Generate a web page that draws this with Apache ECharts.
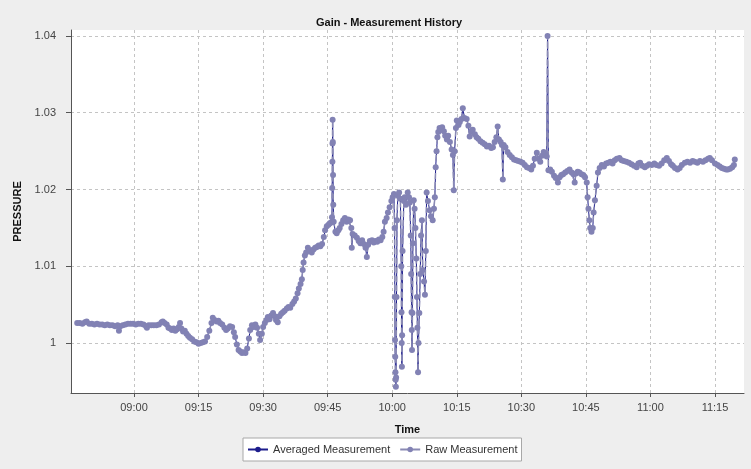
<!DOCTYPE html>
<html>
<head>
<meta charset="utf-8">
<script src="https://cdn.jsdelivr.net/npm/echarts@6/dist/echarts.min.js"></script>
<style>
  html, body { margin: 0; padding: 0; background: #eeeeee; }
  #chart { width: 751px; height: 469px; }
</style>
</head>
<body>
<div id="chart"></div>
<script>
// x = minutes after 09:00, y = pressure
var raw = [
  [-13.2, 1.0026], [-12.6, 1.0026], [-12.0, 1.0025], [-11.4, 1.0027], [-11.0, 1.0028],
  [-10.4, 1.0025], [-9.8, 1.0025], [-9.2, 1.0024], [-8.6, 1.0025], [-8.0, 1.0024],
  [-7.4, 1.0024], [-6.8, 1.0023], [-6.2, 1.0024], [-5.6, 1.0023], [-5.0, 1.0023],
  [-4.4, 1.0022], [-3.8, 1.0023], [-3.5, 1.0016], [-3.2, 1.0022], [-2.6, 1.0023],
  [-2.0, 1.0024], [-1.4, 1.0025], [-0.8, 1.0025], [-0.2, 1.0025], [0.4, 1.0024],
  [1.0, 1.0025], [1.6, 1.0025], [2.2, 1.0024], [2.8, 1.0022], [3.0, 1.0020],
  [3.4, 1.0023], [4.0, 1.0023], [4.6, 1.0023], [5.2, 1.0023], [5.8, 1.0024],
  [6.4, 1.0027], [6.7, 1.0028], [7.1, 1.0026], [7.6, 1.0024], [8.0, 1.0020],
  [8.4, 1.0019], [8.8, 1.0017], [9.2, 1.0019], [9.6, 1.0016], [10.0, 1.0018],
  [10.4, 1.0021], [10.7, 1.0026], [11.0, 1.0019], [11.4, 1.0015], [11.8, 1.0016],
  [12.2, 1.0012], [12.6, 1.0009], [13.0, 1.0007], [13.5, 1.0005], [14.0, 1.0002],
  [14.5, 1.0001], [15.0, 0.9999], [15.5, 1.0000], [16.0, 1.0001], [16.5, 1.0002],
  [17.0, 1.0008], [17.5, 1.0016], [18.0, 1.0026], [18.3, 1.0033], [18.7, 1.0030],
  [19.2, 1.0028], [19.6, 1.0029], [20.0, 1.0026], [20.5, 1.0024], [21.0, 1.0020],
  [21.4, 1.0017], [21.8, 1.0019], [22.3, 1.0022], [22.8, 1.0021], [23.2, 1.0014],
  [23.5, 1.0008], [23.9, 0.9998], [24.3, 0.9991], [24.7, 0.9989], [25.1, 0.9987],
  [25.5, 0.9988], [25.9, 0.9987], [26.3, 0.9993], [26.7, 1.0006], [27.0, 1.0017],
  [27.4, 1.0023], [27.8, 1.0021], [28.2, 1.0024], [28.6, 1.0020], [29.0, 1.0012],
  [29.3, 1.0004], [29.7, 1.0012], [30.0, 1.0021], [30.4, 1.0026], [30.8, 1.0030],
  [31.1, 1.0034], [31.5, 1.0031], [31.9, 1.0036], [32.3, 1.0039], [32.7, 1.0035],
  [33.0, 1.0030], [33.4, 1.0027], [33.8, 1.0035], [34.2, 1.0038], [34.6, 1.0040],
  [35.0, 1.0042], [35.5, 1.0045], [35.9, 1.0047], [36.3, 1.0046], [36.8, 1.0051],
  [37.2, 1.0054], [37.6, 1.0058], [38.0, 1.0065], [38.3, 1.0071], [38.7, 1.0077],
  [39.0, 1.0083], [39.2, 1.0095], [39.4, 1.0105], [39.7, 1.0114], [40.0, 1.0118],
  [40.4, 1.0124], [40.8, 1.0121], [41.3, 1.0118], [41.7, 1.0122], [42.1, 1.0124],
  [42.5, 1.0125], [42.9, 1.0127], [43.3, 1.0126], [43.7, 1.0129], [44.1, 1.0138],
  [44.4, 1.0147], [44.8, 1.0152], [45.2, 1.0154], [45.5, 1.0156], [45.8, 1.0157],
  [46.0, 1.0164], [46.05, 1.0202], [46.1, 1.0236], [46.12, 1.0260], [46.15, 1.0291],
  [46.2, 1.0262], [46.25, 1.0219], [46.3, 1.0180], [46.4, 1.0158], [46.8, 1.0145],
  [47.1, 1.0143], [47.5, 1.0147], [47.8, 1.0150], [48.2, 1.0155], [48.6, 1.0160],
  [49.0, 1.0163], [49.4, 1.0158], [49.8, 1.0161], [50.2, 1.0160], [50.5, 1.0150],
  [50.6, 1.0124], [50.8, 1.0142], [51.3, 1.0140], [51.8, 1.0137], [52.2, 1.0133],
  [52.6, 1.0130], [53.0, 1.0134], [53.4, 1.0129], [53.8, 1.0124], [54.1, 1.0112],
  [54.4, 1.0128], [54.8, 1.0133], [55.3, 1.0134], [55.7, 1.0131], [56.1, 1.0133],
  [56.5, 1.0132], [56.9, 1.0135], [57.3, 1.0134], [57.7, 1.0138], [58.0, 1.0145],
  [58.3, 1.0158], [58.7, 1.0163], [59.0, 1.0170], [59.4, 1.0177], [59.8, 1.0185],
  [60.1, 1.0190], [60.4, 1.0194], [60.55, 1.0150], [60.6, 1.0060], [60.65, 1.0004],
  [60.7, 0.9982], [60.75, 0.9962], [60.8, 0.9952], [60.85, 0.9943], [60.9, 0.9955],
  [61.0, 1.0060], [61.1, 1.0160], [61.3, 1.0192], [61.6, 1.0196], [61.9, 1.0188],
  [62.1, 1.0100], [62.15, 1.0040], [62.2, 1.0000], [62.25, 0.9969], [62.3, 1.0010],
  [62.4, 1.0120], [62.7, 1.0185], [62.9, 1.0190], [63.2, 1.0180], [63.6, 1.0196],
  [63.9, 1.0190], [64.1, 1.0183], [64.3, 1.0140], [64.4, 1.0090], [64.5, 1.0040],
  [64.55, 1.0017], [64.6, 0.9991], [64.7, 1.0039], [64.8, 1.0130], [65.0, 1.0186],
  [65.2, 1.0175], [65.4, 1.0150], [65.6, 1.0110], [65.75, 1.0060], [65.85, 1.0020],
  [66.0, 0.9962], [66.1, 1.0000], [66.3, 1.0039], [66.5, 1.0090], [66.7, 1.0140],
  [66.9, 1.0160], [67.1, 1.0095], [67.4, 1.0080], [67.6, 1.0063], [67.8, 1.0120],
  [68.0, 1.0196], [68.3, 1.0185], [68.7, 1.0173], [69.0, 1.0165], [69.4, 1.0160],
  [69.7, 1.0175], [69.9, 1.0190], [70.1, 1.0229], [70.3, 1.0250], [70.5, 1.0268],
  [70.7, 1.0275], [71.0, 1.0280], [71.3, 1.0278], [71.6, 1.0281], [72.0, 1.0276],
  [72.3, 1.0270], [72.7, 1.0265], [73.0, 1.0270], [73.4, 1.0262], [73.8, 1.0252],
  [74.1, 1.0245], [74.3, 1.0199], [74.5, 1.0250], [74.8, 1.0280], [75.0, 1.0290],
  [75.4, 1.0284], [75.7, 1.0288], [76.1, 1.0292], [76.4, 1.0306], [76.8, 1.0293],
  [77.3, 1.0292], [77.7, 1.0283], [78.0, 1.0269], [78.4, 1.0276], [78.7, 1.0278],
  [79.2, 1.0272], [79.6, 1.0268], [80.0, 1.0266], [80.5, 1.0263], [81.0, 1.0261],
  [81.5, 1.0259], [82.0, 1.0256], [82.5, 1.0257], [83.0, 1.0254], [83.4, 1.0255],
  [83.8, 1.0262], [84.2, 1.0268], [84.5, 1.0282], [84.8, 1.0265], [85.2, 1.0262],
  [85.5, 1.0258], [85.7, 1.0213], [85.9, 1.0258], [86.3, 1.0255], [86.8, 1.0249],
  [87.3, 1.0245], [87.8, 1.0242], [88.3, 1.0239], [88.8, 1.0238], [89.3, 1.0237],
  [89.8, 1.0236], [90.3, 1.0235], [90.8, 1.0232], [91.3, 1.0229], [91.8, 1.0228],
  [92.3, 1.0226], [92.7, 1.0231], [93.1, 1.0240], [93.6, 1.0248], [94.0, 1.0240],
  [94.4, 1.0236], [94.8, 1.0244], [95.2, 1.0249], [95.6, 1.0246], [95.9, 1.0243],
  [96.1, 1.0400], [96.3, 1.0225], [96.7, 1.0226], [97.1, 1.0223], [97.6, 1.0218],
  [98.0, 1.0215], [98.5, 1.0209], [98.9, 1.0216], [99.3, 1.0219], [99.7, 1.0220],
  [100.2, 1.0222], [100.7, 1.0224], [101.2, 1.0226], [101.7, 1.0222], [102.1, 1.0220],
  [102.4, 1.0209], [102.7, 1.0221], [103.1, 1.0223], [103.5, 1.0222], [104.0, 1.0220],
  [104.4, 1.0219], [104.8, 1.0216], [105.2, 1.0209], [105.4, 1.0190], [105.6, 1.0175],
  [105.8, 1.0160], [106.0, 1.0150], [106.3, 1.0145], [106.6, 1.0150], [106.8, 1.0170],
  [107.1, 1.0186], [107.5, 1.0205], [107.8, 1.0222], [108.2, 1.0228], [108.7, 1.0232],
  [109.2, 1.0230], [109.7, 1.0234], [110.2, 1.0235], [110.7, 1.0236], [111.2, 1.0234],
  [111.7, 1.0238], [112.2, 1.0240], [112.8, 1.0241], [113.3, 1.0238], [113.8, 1.0237],
  [114.4, 1.0236], [115.0, 1.0235], [115.6, 1.0233], [116.2, 1.0231], [116.8, 1.0229],
  [117.2, 1.0234], [117.6, 1.0235], [118.1, 1.0231], [118.7, 1.0229], [119.2, 1.0231],
  [119.7, 1.0233], [120.3, 1.0232], [120.9, 1.0234], [121.4, 1.0232], [122.0, 1.0231],
  [122.6, 1.0234], [123.2, 1.0238], [123.8, 1.0241], [124.3, 1.0237], [124.8, 1.0233],
  [125.2, 1.0231], [125.7, 1.0228], [126.3, 1.0226], [126.8, 1.0228], [127.3, 1.0232],
  [128.0, 1.0235], [128.6, 1.0236], [129.2, 1.0235], [129.8, 1.0237], [130.3, 1.0236],
  [130.9, 1.0235], [131.5, 1.0237], [132.2, 1.0236], [132.8, 1.0238], [133.4, 1.0240],
  [133.8, 1.0241], [134.3, 1.0238], [135.0, 1.0234], [135.6, 1.0232], [136.1, 1.0230],
  [136.6, 1.0228], [137.1, 1.0227], [137.6, 1.0226], [138.0, 1.0226], [138.5, 1.0227],
  [139.0, 1.0229], [139.4, 1.0232], [139.6, 1.0239]
];
// the averaged trace sits right on top of the raw one in the picture
var averaged = raw;

var xTicks = [0, 15, 30, 45, 60, 75, 90, 105, 120, 135];
var yTicks = [1, 1.01, 1.02, 1.03, 1.04];

function hhmm(m) {
  var t = 9 * 60 + m;
  var h = Math.floor(t / 60), mm = Math.round(t - h * 60);
  return (h < 10 ? '0' : '') + h + ':' + (mm < 10 ? '0' : '') + mm;
}

var font = 'Liberation Sans, Arial, sans-serif';
var myChart = echarts.init(document.getElementById('chart'));
var option = {
  animation: false,
  backgroundColor: '#eeeeee',
  title: {
    text: 'Gain - Measurement History',
    left: 384,
    top: 12,
    textAlign: 'center',
    textStyle: { fontFamily: font, fontSize: 11, fontWeight: 'bold', color: '#111' }
  },
  legend: {
    left: 243,
    top: 438,
    padding: [6, 4, 6, 4],
    itemGap: 9,
    itemWidth: 20,
    itemHeight: 7,
    backgroundColor: '#fff',
    borderColor: '#a8a8a8',
    borderWidth: 1,
    borderRadius: 0,
    textStyle: { fontFamily: font, fontSize: 11, color: '#333' },
    data: ['Averaged Measurement', 'Raw Measurement']
  },
  grid: {
    left: 71, right: 7, top: 30, bottom: 76,
    show: true, backgroundColor: '#fff', borderWidth: 0
  },
  xAxis: {
    type: 'value',
    min: -14.64,
    max: 141.74,
    name: 'Time',
    nameLocation: 'middle',
    nameGap: 31,
    nameTextStyle: { fontFamily: font, fontSize: 11, fontWeight: 'bold', color: '#111' },
    axisLine: { onZero: false, lineStyle: { color: '#555' } },
    axisTick: { customValues: xTicks, length: 4, lineStyle: { color: '#555' } },
    axisLabel: {
      customValues: xTicks,
      margin: 9,
      fontFamily: font, fontSize: 11, color: '#444',
      formatter: function (v) { return hhmm(v); }
    },
    splitLine: { show: true, lineStyle: { color: '#c4c4c4', type: [3, 3] } }
  },
  yAxis: {
    type: 'value',
    min: 0.99349,
    max: 1.04078,
    name: 'PRESSURE',
    nameLocation: 'middle',
    nameGap: 32,
    nameTextStyle: { fontFamily: font, fontSize: 11, fontWeight: 'bold', color: '#111' },
    axisLine: { show: true, onZero: false, lineStyle: { color: '#555' } },
    axisTick: { show: true, customValues: yTicks, length: 5, lineStyle: { color: '#555' } },
    axisLabel: {
      customValues: yTicks,
      margin: 15,
      fontFamily: font, fontSize: 11, color: '#444'
    },
    splitLine: { show: true, lineStyle: { color: '#c4c4c4', type: [3, 3] } }
  },
  series: [
    {
      name: 'Averaged Measurement',
      type: 'line',
      z: 1,
      data: averaged,
      color: '#1c1c8c',
      symbol: 'circle',
      symbolSize: 3,
      lineStyle: { width: 1, color: '#1c1c8c' },
      itemStyle: { color: '#1c1c8c' }
    },
    {
      name: 'Raw Measurement',
      type: 'line',
      z: 2,
      data: raw,
      color: '#8585b8',
      symbol: 'circle',
      symbolSize: 6,
      lineStyle: { width: 1.5, type: 'dashed', color: '#8a8ab4' },
      itemStyle: { color: '#8282b4' }
    }
  ]
};
myChart.setOption(option);
</script>
</body>
</html>
